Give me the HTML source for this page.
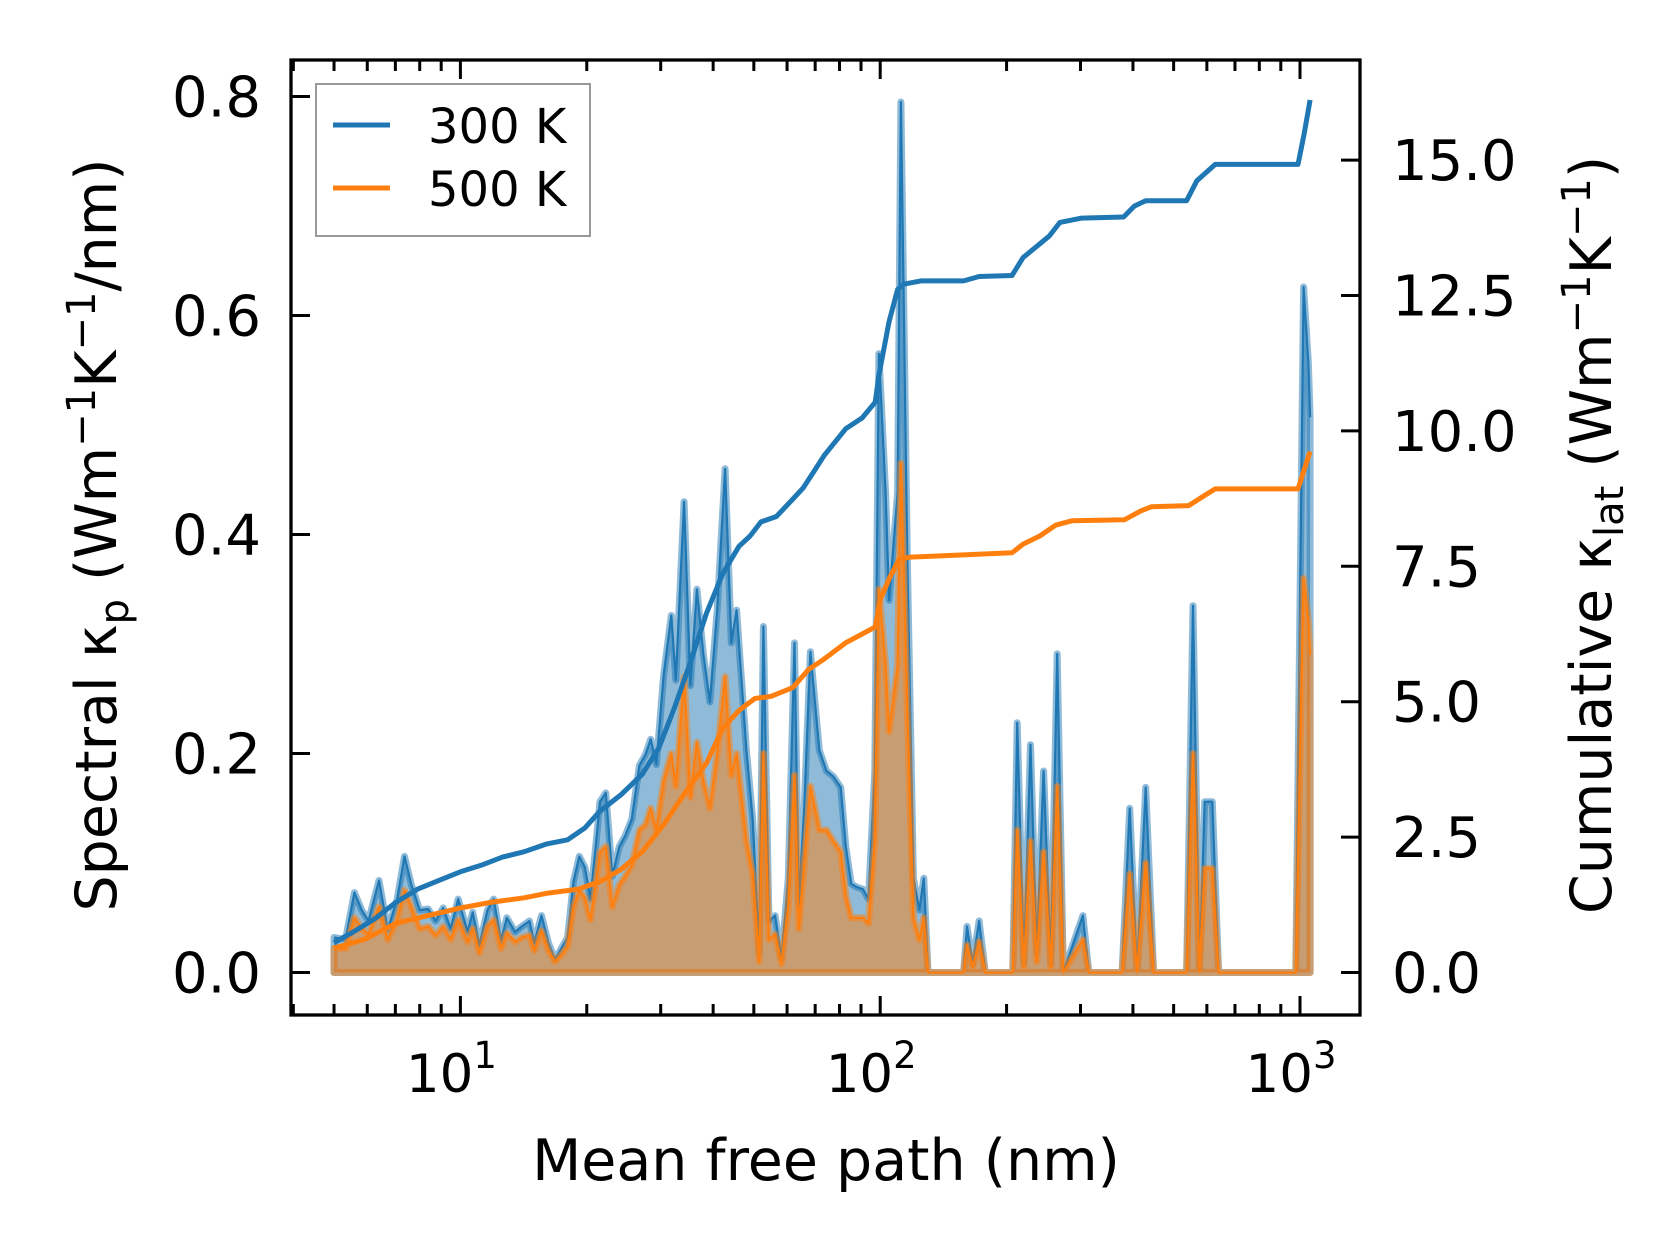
<!DOCTYPE html>
<html><head><meta charset="utf-8"><style>
body{margin:0;background:#fff;}
svg{display:block;font-family:"DejaVu Sans","Liberation Sans",sans-serif;}
</style></head><body>
<svg id="chart" width="1679" height="1254" viewBox="0 0 1679 1254" xmlns="http://www.w3.org/2000/svg">
<rect width="1679" height="1254" fill="#fff"/>
<g id="marks"></g>
<g id="axes"></g>
<g>
<rect x="316" y="84" width="274" height="152" fill="#fff" fill-opacity="0.8" stroke="#999" stroke-width="2"/>
<line x1="333" y1="125" x2="390" y2="125" stroke="#1f77b4" stroke-width="5"/>
<text x="428" y="143" font-size="48">300 K</text>
<line x1="333" y1="188" x2="390" y2="188" stroke="#ff7f0e" stroke-width="5"/>
<text x="428" y="206" font-size="48">500 K</text>
</g>
<text x="826" y="1180" font-size="57" text-anchor="middle">Mean free path (nm)</text>
<text transform="translate(116,535) rotate(-90)" font-size="57" text-anchor="middle">Spectral κ<tspan font-size="40" dy="12">p</tspan><tspan dy="-12"> (Wm</tspan><tspan font-size="40" dy="-21">−1</tspan><tspan dy="21">K</tspan><tspan font-size="40" dy="-21">−1</tspan><tspan dy="21">/nm)</tspan></text>
<text transform="translate(1611,535) rotate(-90)" font-size="57" text-anchor="middle">Cumulative κ<tspan font-size="40" dy="12">lat</tspan><tspan dy="-12"> (Wm</tspan><tspan font-size="40" dy="-21">−1</tspan><tspan dy="21">K</tspan><tspan font-size="40" dy="-21">−1</tspan><tspan dy="21">)</tspan></text>
</svg>
<script>
const mfp = [5.0,5.18,5.33,5.59,5.82,6.04,6.40,6.71,7.07,7.36,7.63,8.00,8.38,8.73,9.10,9.48,9.88,10.4,10.7,11.1,11.6,12.0,12.5,12.9,13.5,14.0,14.6,15.0,15.6,16.2,16.8,17.4,18.0,18.6,19.2,19.8,20.4,21.0,21.5,22.2,23.0,23.9,24.7,25.6,26.7,27.6,28.4,29.3,30.5,31.8,32.6,34.1,35.3,36.6,37.9,39.3,40.9,42.7,44.2,45.5,48.0,49.7,51.5,52.7,54.3,56.2,58.2,60.4,62.5,64.0,65.9,68.2,71.6,74.5,77.3,80.5,82.8,85.3,87.9,91.0,93.8,97.1,99.3,103,105,110,112,116,120,124,127,130,158,161,166,172,178,207,212,220,228,236,245,255,264,273,304,314,377,393,409,429,448,537,556,576,593,618,640,977,1020,1047,1057];
const kp300 = [.032,.031,.031,.073,.057,.047,.084,.039,.067,.106,.081,.057,.058,.047,.059,.040,.067,.037,.055,.025,.057,.067,.029,.050,.037,.042,.047,.027,.052,.027,.012,.022,.032,.083,.106,.096,.067,.115,.156,.164,.088,.115,.125,.140,.189,.199,.213,.190,.272,.326,.267,.430,.262,.350,.291,.247,.331,.460,.301,.331,.203,.140,.018,.316,.047,.052,.013,.086,.301,.062,.150,.293,.203,.184,.179,.169,.115,.081,.078,.076,.067,.184,.565,.438,.340,.438,.795,.379,.086,.057,.086,0,0,.042,.008,.047,0,0,.228,.008,.208,.018,.184,.008,.291,0,.052,0,0,.150,0,.169,0,0,.335,0,.156,.156,0,0,.626,.556,.507];
const kp500 = [.022,.022,.022,.05,.04,.035,.06,.03,.048,.075,.06,.04,.042,.034,.042,.03,.048,.028,.04,.018,.042,.048,.022,.036,.028,.032,.034,.02,.038,.02,.01,.016,.024,.06,.075,.068,.048,.08,.11,.115,.06,.08,.088,.098,.13,.135,.15,.13,.175,.2,.17,.27,.16,.21,.175,.15,.2,.27,.18,.2,.12,.09,.01,.2,.03,.035,.008,.06,.18,.04,.1,.17,.13,.13,.12,.11,.07,.05,.05,.05,.045,.12,.35,.28,.22,.28,.465,.24,.05,.03,.05,0,0,.025,.005,.028,0,0,.13,.005,.12,.01,.11,.005,.17,0,.03,0,0,.09,0,.1,0,0,.2,0,.095,.095,0,0,.36,.32,.29];
const cumX300 = [5.0,5.56,6.25,7.03,7.91,8.89,10,11.2,12.6,14.2,16.0,18.0,19.8,21.5,24.1,27.1,29.7,32.4,35.3,38.6,42.2,46.1,49.0,52.0,56.6,61.9,65.6,69.5,73.6,82.8,90.6,97.3,99.3,105,110,114,125,158,172,206,219,232,253,268,302,380,403,429,537,568,628,989,1022,1057];
const cum300 = [.55,.75,.99,1.30,1.54,1.70,1.86,1.98,2.13,2.23,2.37,2.45,2.67,2.98,3.28,3.66,4.15,4.90,5.73,6.64,7.37,7.87,8.06,8.32,8.42,8.74,8.95,9.25,9.55,10.04,10.24,10.53,11.03,12.02,12.61,12.71,12.77,12.77,12.85,12.87,13.20,13.36,13.60,13.85,13.93,13.95,14.15,14.25,14.25,14.62,14.92,14.92,15.47,16.11];
const cumX500 = [5.0,5.89,7.03,8.38,10,11.9,14.2,16.0,19.1,21.5,24.1,27.1,30.5,34.3,38.6,42.2,46.1,50.3,55.0,61.9,67.4,73.6,82.8,90.6,97.3,100,105,111,118,158,206,219,240,262,286,382,417,443,543,593,628,989,1057];
const cum500 = [.45,.61,.91,1.05,1.19,1.30,1.38,1.46,1.54,1.68,1.90,2.23,2.73,3.32,3.87,4.51,4.84,5.06,5.10,5.26,5.59,5.79,6.09,6.25,6.38,6.88,7.27,7.63,7.67,7.71,7.75,7.91,8.06,8.26,8.34,8.36,8.52,8.60,8.62,8.81,8.93,8.93,9.62];
const leftTicks = [0,0.2,0.4,0.6,0.8];
const leftTickLabels = ["0.0","0.2","0.4","0.6","0.8"];
const rightTicks = [0,2.5,5,7.5,10,12.5,15];
const rightTickLabels = ["0.0","2.5","5.0","7.5","10.0","12.5","15.0"];
const xMajor = [1,2,3];

const NS="http://www.w3.org/2000/svg";
const L=291,R=1360,T=60,B=1015;
function xs(v){return 460.4+419.8*(Math.log10(v)-1);}
function yl(v){return 972.5-v*1095;}
function yr(v){return 972.5-v*54.16;}
function mk(tag,attrs,parent){const e=document.createElementNS(NS,tag);for(const k in attrs)e.setAttribute(k,attrs[k]);parent.appendChild(e);return e;}
const marks=document.getElementById('marks');
const axes=document.getElementById('axes');
const clip=mk('clipPath',{id:'cp'},document.getElementById('chart'));
mk('rect',{x:L,y:T,width:R-L,height:B-T},clip);
marks.setAttribute('clip-path','url(#cp)');

function linePts(xa,ya,yf){return xa.map((x,i)=>xs(x).toFixed(1)+','+yf(ya[i]).toFixed(1)).join(' ');}
function area(xa,ya,color,name){
  const pts=linePts(xa,ya,yl)+' '+xs(xa[xa.length-1]).toFixed(1)+','+yl(0)+' '+xs(xa[0]).toFixed(1)+','+yl(0);
  const p=mk('polygon',{points:pts,fill:color,'fill-opacity':0.5,stroke:color,'stroke-opacity':0.5,'stroke-width':7,'stroke-linejoin':'round'},marks);
  
  
  const l=mk('polyline',{points:linePts(xa,ya,yl),fill:'none',stroke:color,'stroke-width':2.2,'stroke-linejoin':'round'},marks);
  
  
}
area(mfp,kp300,'#1f77b4','spectral-300k');
area(mfp,kp500,'#ff7f0e','spectral-500k');
const c3=mk('polyline',{points:linePts(cumX300,cum300,yr),fill:'none',stroke:'#1f77b4','stroke-width':5,'stroke-linejoin':'round'},marks);


const c5=mk('polyline',{points:linePts(cumX500,cum500,yr),fill:'none',stroke:'#ff7f0e','stroke-width':5,'stroke-linejoin':'round'},marks);



const sp=mk('rect',{x:L,y:T,width:R-L,height:B-T,fill:'none',stroke:'#000','stroke-width':3.3},axes);


for(let d=0;d<=3;d++){
  for(let m=1;m<=9;m++){
    const v=m*Math.pow(10,d);
    if(v<4||v>1400)continue;
    const x=xs(v);const len=(m===1)?19:11;
    mk('line',{x1:x,y1:B,x2:x,y2:B-len,stroke:'#000','stroke-width':3},axes);
    mk('line',{x1:x,y1:T,x2:x,y2:T+len,stroke:'#000','stroke-width':3},axes);
  }
}
xMajor.forEach(p=>{
  const t=mk('text',{x:xs(Math.pow(10,p))-9,y:1092,'font-size':53,'text-anchor':'middle'},axes);
  
  
  t.textContent='10';
  const s=mk('tspan',{'font-size':37,dy:-24},t);s.textContent=String(p);
});
leftTicks.forEach((v,i)=>{
  const y=yl(v);
  mk('line',{x1:L,y1:y,x2:L+19,y2:y,stroke:'#000','stroke-width':3},axes);
  const t=mk('text',{x:261,y:y+20,'font-size':56,'text-anchor':'end'},axes);
  
  
  t.textContent=leftTickLabels[i];
});
rightTicks.forEach((v,i)=>{
  const y=yr(v);
  mk('line',{x1:R,y1:y,x2:R-19,y2:y,stroke:'#000','stroke-width':3},axes);
  const t=mk('text',{x:1392,y:y+20,'font-size':56,'text-anchor':'start'},axes);
  
  
  t.textContent=rightTickLabels[i];
});
</script>
</body></html>
